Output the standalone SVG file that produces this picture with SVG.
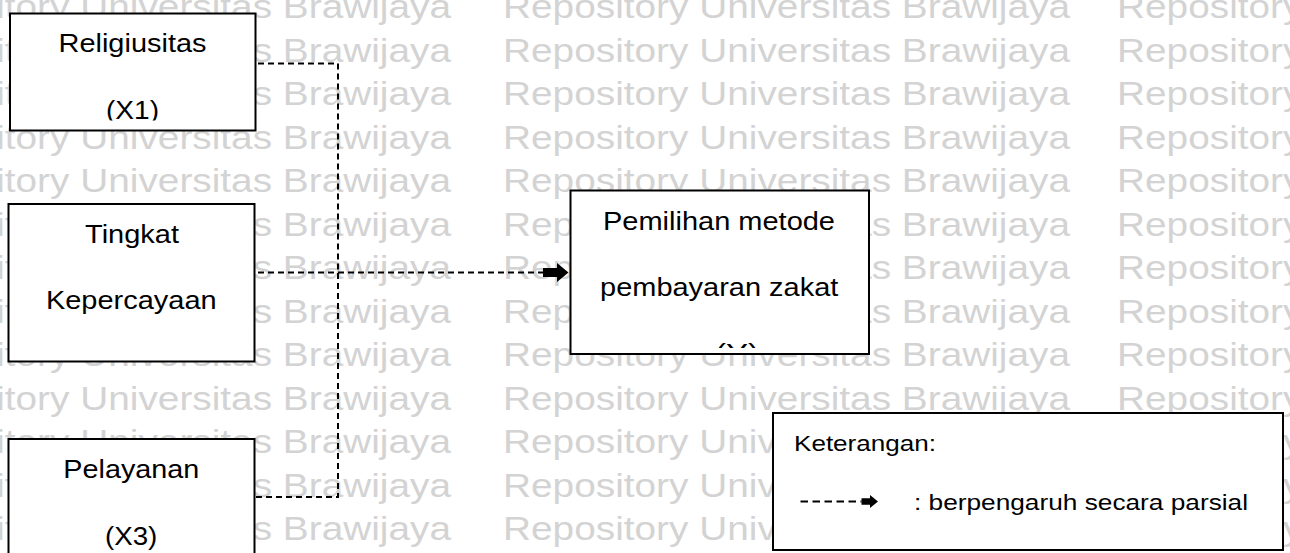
<svg xmlns="http://www.w3.org/2000/svg" xmlns:xlink="http://www.w3.org/1999/xlink" width="1290" height="553" viewBox="0 0 1290 553">
<style>
  .wm { font-family: "Liberation Sans", Arial, sans-serif; font-size: 34px; fill: #d3d3d3; }
  .box { fill: #ffffff; stroke: #000000; stroke-width: 2; }
  .t { font-family: "Liberation Sans", Arial, sans-serif; font-size: 25px; fill: #000000; text-anchor: middle; }
  .lg { font-family: "Liberation Sans", Arial, sans-serif; font-size: 22px; fill: #000000; }
  .dash { fill: none; stroke: #000000; stroke-width: 2; stroke-dasharray: 6 4; }
  .dashlg { fill: none; stroke: #000000; stroke-width: 2; stroke-dasharray: 7.5 4.5; }
  .head { fill: #000000; stroke: none; }
</style>
<defs>
  <text id="wmt" class="wm" x="0" y="0" textLength="567" lengthAdjust="spacingAndGlyphs">Repository Universitas Brawijaya</text>
  <clipPath id="clipX1"><rect x="10" y="14" width="245" height="106.5"/></clipPath>
  <clipPath id="clipY"><rect x="571" y="191" width="297" height="157"/></clipPath>
</defs>
<rect x="0" y="0" width="1290" height="553" fill="#ffffff"/>
<g id="watermark">
  <use href="#wmt" x="-116" y="18"/><use href="#wmt" x="503" y="18"/><use href="#wmt" x="1117" y="18"/>
  <use href="#wmt" x="-116" y="61.5"/><use href="#wmt" x="503" y="61.5"/><use href="#wmt" x="1117" y="61.5"/>
  <use href="#wmt" x="-116" y="105"/><use href="#wmt" x="503" y="105"/><use href="#wmt" x="1117" y="105"/>
  <use href="#wmt" x="-116" y="148.5"/><use href="#wmt" x="503" y="148.5"/><use href="#wmt" x="1117" y="148.5"/>
  <use href="#wmt" x="-116" y="192"/><use href="#wmt" x="503" y="192"/><use href="#wmt" x="1117" y="192"/>
  <use href="#wmt" x="-116" y="235.5"/><use href="#wmt" x="503" y="235.5"/><use href="#wmt" x="1117" y="235.5"/>
  <use href="#wmt" x="-116" y="279"/><use href="#wmt" x="503" y="279"/><use href="#wmt" x="1117" y="279"/>
  <use href="#wmt" x="-116" y="322.5"/><use href="#wmt" x="503" y="322.5"/><use href="#wmt" x="1117" y="322.5"/>
  <use href="#wmt" x="-116" y="366"/><use href="#wmt" x="503" y="366"/><use href="#wmt" x="1117" y="366"/>
  <use href="#wmt" x="-116" y="409.5"/><use href="#wmt" x="503" y="409.5"/><use href="#wmt" x="1117" y="409.5"/>
  <use href="#wmt" x="-116" y="453"/><use href="#wmt" x="503" y="453"/><use href="#wmt" x="1117" y="453"/>
  <use href="#wmt" x="-116" y="496.5"/><use href="#wmt" x="503" y="496.5"/><use href="#wmt" x="1117" y="496.5"/>
  <use href="#wmt" x="-116" y="540"/><use href="#wmt" x="503" y="540"/><use href="#wmt" x="1117" y="540"/>
</g>
<g id="connectors">
  <path class="dash" d="M258,63.5 H338 V272.5"/>
  <path class="dash" d="M256,497 H338 V272.5"/>
  <path class="dash" d="M248,272.5 H543"/>
  <path class="head" d="M543,268 H557 V263 L568.5,272.5 L557,282 V277 H543 Z"/>
</g>
<g id="node-religiusitas">
  <rect class="box" x="10" y="13.5" width="245.5" height="117"/>
  <text class="t" x="132.5" y="52" textLength="148" lengthAdjust="spacingAndGlyphs">Religiusitas</text>
  <text class="t" x="132.5" y="119" textLength="53" lengthAdjust="spacingAndGlyphs" clip-path="url(#clipX1)">(X1)</text>
</g>
<g id="node-tingkat-kepercayaan">
  <rect class="box" x="8.5" y="204" width="246" height="157.5"/>
  <text class="t" x="132" y="243.3" textLength="94" lengthAdjust="spacingAndGlyphs">Tingkat</text>
  <text class="t" x="131.3" y="309.3" textLength="170.7" lengthAdjust="spacingAndGlyphs">Kepercayaan</text>
</g>
<g id="node-pelayanan">
  <rect class="box" x="8.5" y="439" width="246" height="130"/>
  <text class="t" x="131.3" y="478.3" textLength="136" lengthAdjust="spacingAndGlyphs">Pelayanan</text>
  <text class="t" x="131.2" y="545" textLength="52.3" lengthAdjust="spacingAndGlyphs">(X3)</text>
</g>
<g id="node-pemilihan">
  <rect class="box" x="570.5" y="190.5" width="298.5" height="163.5"/>
  <text class="t" x="719" y="230" textLength="232" lengthAdjust="spacingAndGlyphs">Pemilihan metode</text>
  <text class="t" x="719.2" y="296" textLength="238.3" lengthAdjust="spacingAndGlyphs">pembayaran zakat</text>
  <text class="t" x="737" y="362" textLength="44" lengthAdjust="spacingAndGlyphs" clip-path="url(#clipY)">(Y)</text>
</g>
<g id="legend">
  <rect class="box" x="773" y="413" width="510" height="137"/>
  <text class="lg" x="794" y="451" textLength="142" lengthAdjust="spacingAndGlyphs">Keterangan:</text>
  <path class="dashlg" d="M800.5,501.5 H861.5"/>
  <path class="head" d="M861.5,498.3 H870 V495 L878,501.5 L870,508 V504.7 H861.5 Z"/>
  <text class="lg" x="914" y="510" textLength="334" lengthAdjust="spacingAndGlyphs">: berpengaruh secara parsial</text>
</g>
</svg>
